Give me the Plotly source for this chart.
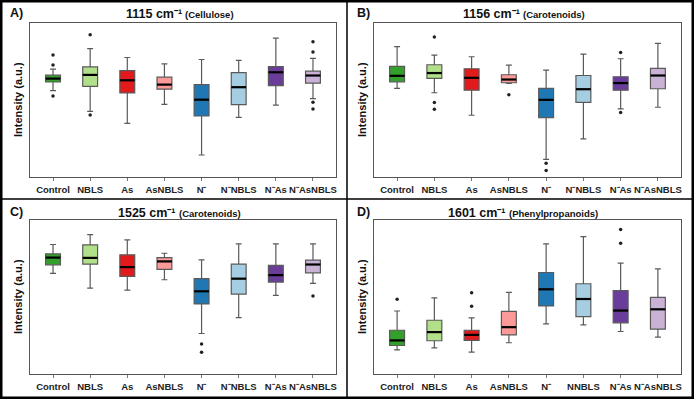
import plotly.graph_objects as go

# ---------------- data (arbitrary intensity units) ----------------
groups = ["Control", "NBLS", "As", "AsNBLS", "N⁻", "N⁻NBLS", "N⁻As", "N⁻AsNBLS"]
groups_d = ["Control", "NBLS", "As", "AsNBLS", "N⁻", "NNBLS", "N⁻As", "N⁻AsNBLS"]
colors = ["#33a02c", "#b2df8a", "#e31a1c", "#fb9a99", "#1f78b4", "#a6cee3", "#6a3d9a", "#cab2d6"]

# Panel A: 1115 cm-1 (Cellulose)
a_lo  = [56.1, 42.6, 34.8, 47.2, 14.3, 38.7, 46.7, 50.9]
a_q1  = [61.7, 58.9, 54.6, 57.0, 39.6, 47.0, 59.3, 60.9]
a_med = [63.9, 66.3, 62.8, 60.0, 50.2, 58.3, 68.0, 65.9]
a_q3  = [66.1, 71.5, 69.1, 64.8, 60.0, 67.8, 71.7, 68.7]
a_hi  = [70.0, 83.3, 77.6, 73.5, 76.3, 75.7, 90.2, 77.0]
a_out = [[79.3, 72.8, 52.6], [92.4, 40.2], [], [], [], [], [], [87.8, 81.1, 48.5, 44.1]]

# Panel B: 1156 cm-1 (Carotenoids)
b_lo  = [57.5, 54.7, 40.1, 60.7, 11.5, 24.7, 44.3, 45.3]
b_q1  = [61.8, 64.0, 56.4, 61.2, 38.6, 48.4, 56.4, 57.3]
b_med = [65.7, 67.5, 64.4, 63.3, 50.1, 57.0, 61.0, 65.9]
b_q3  = [71.8, 72.9, 70.3, 66.4, 57.5, 65.9, 65.1, 70.5]
b_hi  = [84.6, 79.2, 78.1, 72.7, 69.4, 79.8, 76.8, 86.8]
b_out = [[], [90.9, 48.4, 44.0], [], [53.4], [8.9, 4.3], [], [80.9, 41.9], []]

# Panel C: 1525 cm-1 (Carotenoids)
c_lo  = [65.3, 55.8, 54.5, 61.2, 26.3, 36.6, 51.1, 58.8]
c_q1  = [70.9, 71.3, 63.4, 67.9, 45.5, 51.9, 59.7, 65.7]
c_med = [75.6, 75.4, 69.4, 73.1, 53.7, 61.9, 64.2, 71.1]
c_q3  = [78.0, 83.8, 77.4, 75.6, 61.9, 71.3, 70.5, 73.9]
c_hi  = [84.1, 90.5, 87.1, 78.4, 74.1, 84.5, 84.5, 84.5]
c_out = [[], [], [], [], [19.4, 14.2], [], [], [50.6]]

# Panel D: 1601 cm-1 (Phenylpropanoids)
d_lo  = [15.7, 17.0, 14.2, 20.3, 32.5, 31.9, 27.6, 23.9]
d_q1  = [18.5, 21.6, 21.8, 25.4, 44.2, 37.3, 33.2, 29.1]
d_med = [21.8, 27.2, 25.4, 30.4, 55.0, 48.7, 41.2, 42.0]
d_q3  = [28.4, 34.9, 28.4, 40.7, 65.9, 58.6, 54.1, 49.8]
d_hi  = [40.9, 49.4, 36.4, 53.0, 84.5, 89.2, 72.0, 68.3]
d_out = [[48.5], [], [52.8, 44.0], [], [], [], [93.8, 84.9], []]

panel_letters = ["A)", "B)", "C)", "D)"]
panel_peaks = ["1115 cm⁻¹", "1156 cm⁻¹", "1525 cm⁻¹", "1601 cm⁻¹"]
panel_names = ["(Cellulose)", "(Carotenoids)", "(Carotenoids)", "(Phenylpropanoids)"]

# ---------------- figure ----------------
W, H = 694, 399
fig = go.Figure()

panels = [
    (a_lo, a_q1, a_med, a_q3, a_hi, a_out, groups),
    (b_lo, b_q1, b_med, b_q3, b_hi, b_out, groups),
    (c_lo, c_q1, c_med, c_q3, c_hi, c_out, groups),
    (d_lo, d_q1, d_med, d_q3, d_hi, d_out, groups_d),
]

# plot frames in pixels: (x0, x1, ytop, ybottom)
frames = [(30, 336, 23, 177), (374, 681, 23, 177), (30, 336, 220, 374), (374, 681, 220, 374)]
box_w = 0.4
positions = list(range(len(groups)))

# approximate Arial-bold advance widths (em) for centring the two-part titles
adv = {"(": .333, ")": .333, "C": .722, "P": .667, "a": .556, "d": .611, "e": .556, "h": .611,
       "i": .278, "l": .278, "n": .611, "o": .611, "p": .611, "r": .389, "s": .556, "t": .333,
       "u": .611, "y": .556}
MAIN_SIZE, SUB_SIZE = 12.5, 9.5
MAIN_W = 55.0
GAP = -1.0

for p, (lo, q1, med, q3, hi, out, labels) in enumerate(panels):
    ax = "" if p == 0 else str(p + 1)
    xref, yref = "x" + ax, "y" + ax
    for i in positions:
        fig.add_trace(go.Box(
            x=[i], q1=[q1[i]], median=[med[i]], q3=[q3[i]],
            lowerfence=[lo[i]], upperfence=[hi[i]],
            width=box_w, whiskerwidth=0.4, boxpoints=False,
            fillcolor=colors[i], line=dict(color="#5a5a5a", width=1.2),
            xaxis=xref, yaxis=yref, showlegend=False, hoverinfo="skip"))
    # thick black medians
    mx, my = [], []
    for i in positions:
        mx += [i - box_w / 2, i + box_w / 2, None]
        my += [med[i], med[i], None]
    fig.add_trace(go.Scatter(x=mx, y=my, mode="lines", line=dict(color="black", width=2.2),
                             xaxis=xref, yaxis=yref, showlegend=False, hoverinfo="skip"))
    # outliers
    ox, oy = [], []
    for i in positions:
        for v in out[i]:
            ox.append(i)
            oy.append(v)
    fig.add_trace(go.Scatter(x=ox, y=oy, mode="markers", marker=dict(color="#222", size=3.5),
                             xaxis=xref, yaxis=yref, showlegend=False, hoverinfo="skip"))

    x0, x1, yt, yb = frames[p]
    xdom = [x0 / W, x1 / W]
    ydom = [(H - yb) / H, (H - yt) / H]
    fig.layout["xaxis" + ax] = dict(
        domain=xdom, range=[-0.62, 7.62], tickmode="array", tickvals=positions, ticktext=labels,
        showline=True, mirror=True, linecolor="#555", linewidth=1.2, ticks="outside", ticklen=3,
        tickcolor="#777", showgrid=False, zeroline=False, anchor=yref,
        tickfont=dict(family="Liberation Sans, Arial", size=9.5, color="#222", weight="bold"))
    fig.layout["yaxis" + ax] = dict(
        domain=ydom, range=[0, 100], showticklabels=False, ticks="", showline=True, mirror=True,
        linecolor="#555", linewidth=1.2, showgrid=False, zeroline=False, anchor=xref)

    # titles (two parts: peak + compound class) and labels
    cx = (x0 + x1) / 2
    panel_top = 0 if p < 2 else 199
    sub_w = sum(adv.get(ch, .556) for ch in panel_names[p]) * SUB_SIZE
    total = MAIN_W + 4 + sub_w
    start = cx - total / 2
    ty = (H - panel_top - 14) / H
    fig.add_annotation(xref="paper", yref="paper", x=(start + MAIN_W) / W, y=ty,
                       text="<b>" + panel_peaks[p] + "</b>",
                       showarrow=False, xanchor="right", yanchor="middle",
                       font=dict(family="Liberation Sans, Arial", size=MAIN_SIZE, color="#111"))
    fig.add_annotation(xref="paper", yref="paper", x=(start + MAIN_W + GAP) / W, y=ty - 0.5 / H,
                       text="<b>" + panel_names[p] + "</b>",
                       showarrow=False, xanchor="left", yanchor="middle",
                       font=dict(family="Liberation Sans, Arial", size=SUB_SIZE, color="#111"))
    left = 0 if p % 2 == 0 else 347
    fig.add_annotation(xref="paper", yref="paper", x=(left + 8) / W, y=(H - panel_top - 13) / H,
                       text="<b>" + panel_letters[p] + "</b>", showarrow=False,
                       xanchor="left", yanchor="middle",
                       font=dict(family="Liberation Sans, Arial", size=12.5, color="#111"))
    fig.add_annotation(xref="paper", yref="paper", x=(x0 - 12) / W, y=(H - (yt + yb) / 2) / H,
                       text="<b>Intensity (a.u.)</b>", textangle=-90, showarrow=False,
                       xanchor="center", yanchor="middle",
                       font=dict(family="Liberation Sans, Arial", size=11, color="#111"))

# panel borders
fig.add_shape(type="rect", xref="paper", yref="paper", x0=0, y0=0, x1=1, y1=1,
              line=dict(color="black", width=5))
fig.add_shape(type="line", xref="paper", yref="paper", x0=347 / W, x1=347 / W, y0=0, y1=1,
              line=dict(color="black", width=1.5))
fig.add_shape(type="line", xref="paper", yref="paper", x0=0, x1=1, y0=(H - 199) / H, y1=(H - 199) / H,
              line=dict(color="black", width=1.5))

fig.update_layout(width=W, height=H, margin=dict(l=0, r=0, t=0, b=0),
                  paper_bgcolor="white", plot_bgcolor="white", boxmode="overlay")

fig.write_html("out.html")
